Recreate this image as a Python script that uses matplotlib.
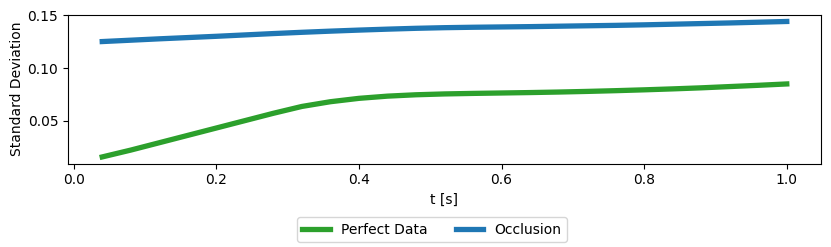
"""
Standard deviation over time: perfect data vs. occlusion
"""

import numpy as np
import matplotlib
matplotlib.use("Agg")
import matplotlib.pyplot as plt

# time steps [s]
t = np.round(np.arange(1, 26) * 0.04, 2)

perfect_data = [0.0155, 0.0220, 0.0290, 0.0360, 0.0430, 0.0500, 0.0570, 0.0635,
                0.0680, 0.0712, 0.0733, 0.0746, 0.0754, 0.0759, 0.0763, 0.0767,
                0.0772, 0.0778, 0.0785, 0.0793, 0.0802, 0.0812, 0.0824, 0.0836,
                0.0849]

occlusion = [0.1252, 0.1265, 0.1278, 0.1290, 0.1302, 0.1315, 0.1328, 0.1340,
             0.1351, 0.1361, 0.1370, 0.1378, 0.1384, 0.1388, 0.1391, 0.1394,
             0.1398, 0.1402, 0.1406, 0.1411, 0.1417, 0.1423, 0.1429, 0.1436,
             0.1443]

fig = plt.figure(figsize=(8.31, 2.47), dpi=100)
ax = fig.add_axes([68 / 831, 1 - 163.7 / 247, (821 - 68) / 831, (163.7 - 14.7) / 247])

ax.plot(t, perfect_data, color='#2ca02c', linewidth=3.8, label='Perfect Data')
ax.plot(t, occlusion, color='#1f77b4', linewidth=3.8, label='Occlusion')

ax.set_xlabel('t [s]')
ax.set_ylabel('Standard Deviation')
ax.yaxis.set_label_coords(-0.058, 0.5)
ax.set_yticks([0.05, 0.10, 0.15])
ax.set_xticks([0.0, 0.2, 0.4, 0.6, 0.8, 1.0])

fig.legend(loc='upper center', ncol=2, bbox_to_anchor=(432 / 831, 1 - 210 / 247))

fig.savefig('out.png', dpi=100)
plt.close(fig)
